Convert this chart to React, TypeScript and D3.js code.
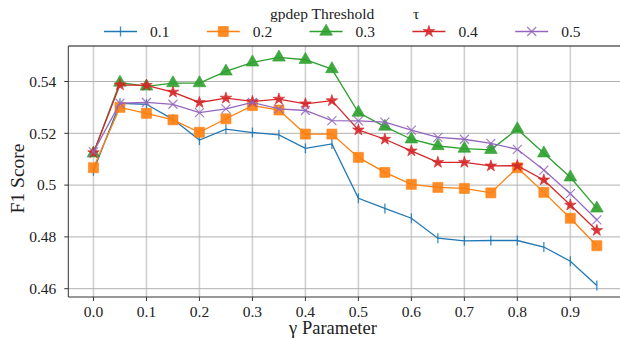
import React from 'react';
import * as d3 from 'd3';

const gammas = [0.0, 0.05, 0.1, 0.15, 0.2, 0.25, 0.3, 0.35, 0.4, 0.45, 0.5, 0.55, 0.6, 0.65, 0.7, 0.75, 0.8, 0.85, 0.9, 0.95];

const f1Tau01 = [0.5055, 0.5316, 0.5312, 0.5254, 0.5174, 0.5216, 0.5203, 0.5194, 0.5142, 0.5159, 0.4949, 0.4910, 0.4872, 0.4795, 0.4785, 0.4786, 0.4786, 0.4761, 0.4706, 0.4612];
const f1Tau02 = [0.5067, 0.5300, 0.5277, 0.5252, 0.5204, 0.5256, 0.5307, 0.5290, 0.5197, 0.5197, 0.5107, 0.5049, 0.5003, 0.4991, 0.4987, 0.4970, 0.5067, 0.4972, 0.4872, 0.4766];
const f1Tau03 = [0.5123, 0.5396, 0.5381, 0.5394, 0.5394, 0.5439, 0.5474, 0.5493, 0.5484, 0.5448, 0.5280, 0.5226, 0.5177, 0.5151, 0.5141, 0.5136, 0.5216, 0.5123, 0.5030, 0.4910];
const f1Tau04 = [0.5125, 0.5387, 0.5385, 0.5359, 0.5319, 0.5336, 0.5323, 0.5332, 0.5314, 0.5326, 0.5213, 0.5177, 0.5132, 0.5088, 0.5088, 0.5074, 0.5075, 0.5020, 0.4923, 0.4825];
const f1Tau05 = [0.5128, 0.5316, 0.5319, 0.5312, 0.5280, 0.5294, 0.5319, 0.5294, 0.5288, 0.5249, 0.5248, 0.5243, 0.5212, 0.5184, 0.5177, 0.5161, 0.5138, 0.5058, 0.4967, 0.4866];

const tauLabels = ['0.1', '0.2', '0.3', '0.4', '0.5'];
const colors = ['#1f77b4', '#ff7f0e', '#2ca02c', '#d62728', '#9467bd'];
const markers = ['vline', 'square', 'triangle', 'star', 'x'];
const xTicks = [0, 0.1, 0.2, 0.3, 0.4, 0.5, 0.6, 0.7, 0.8, 0.9];
const yTicks = [0.46, 0.48, 0.5, 0.52, 0.54];

const W = 620, H = 338;
const FONT = "'Liberation Serif', 'DejaVu Serif', serif";
const txt = (size: number): React.CSSProperties => ({ fontFamily: FONT, fontSize: size + 'px' });

const Marker = ({ kind, color, x, y }: { kind: string; color: string; x: number; y: number }) => {
  const t = `translate(${x},${y})`;
  if (kind === 'vline') return <line transform={t} x1={0} x2={0} y1={-5} y2={5} stroke={color} strokeWidth={1.3} strokeOpacity={0.85} />;
  if (kind === 'x') return <path transform={t} d="M-4.5,-4.5L4.5,4.5M-4.5,4.5L4.5,-4.5" stroke={color} strokeWidth={1.2} strokeOpacity={0.85} fill="none" />;
  const sym = kind === 'square' ? d3.symbolSquare : kind === 'triangle' ? d3.symbolTriangle : d3.symbolStar;
  const size = kind === 'square' ? 100 : kind === 'triangle' ? 70 : 42;
  return <path transform={t} d={d3.symbol(sym, size)()!} fill={color} fillOpacity={0.9} stroke={color} strokeOpacity={0.6} strokeWidth={1} />;
};

export default function App() {
  const series = [f1Tau01, f1Tau02, f1Tau03, f1Tau04, f1Tau05];
  const margin = { left: 68.3, right: -2, top: 46, bottom: 41 };

  // matplotlib-style 5% margins around the data
  const xMin = d3.min(gammas)!, xMax = d3.max(gammas)!;
  const xPad = (xMax - xMin) * 0.05;
  const x = d3.scaleLinear().domain([xMin - xPad, xMax + xPad]).range([margin.left, W - margin.right]);

  const all = series.flat();
  const yMin = d3.min(all)!, yMax = d3.max(all)!;
  const yPad = (yMax - yMin) * 0.05;
  const y = d3.scaleLinear().domain([yMin - yPad, yMax + yPad]).range([H - margin.bottom, margin.top]);

  const line = d3.line<number>().x((_, i) => x(gammas[i])).y(d => y(d));
  const [x0, x1] = x.range();
  const [y0, y1] = y.range();

  return (
    <svg width={W} height={H} style={{ position: 'absolute', left: 0, top: 0, background: '#fff' }}>
      {/* grid */}
      {xTicks.map(t => (
        <line key={'gx' + t} x1={x(t)} x2={x(t)} y1={y1} y2={y0} stroke="#d0d0d0" strokeWidth={1.6} />
      ))}
      {yTicks.map(t => (
        <line key={'gy' + t} x1={x0} x2={x1} y1={y(t)} y2={y(t)} stroke="#b0b0b0" strokeWidth={1} />
      ))}

      {/* series */}
      {series.map((s, k) => (
        <g key={'s' + k}>
          <path d={line(s)!} fill="none" stroke={colors[k]} strokeWidth={1.3} />
          {s.map((v, i) => <Marker key={i} kind={markers[k]} color={colors[k]} x={x(gammas[i])} y={y(v)} />)}
        </g>
      ))}

      {/* spines */}
      <line x1={x0} x2={x0} y1={y1} y2={y0} stroke="#333" strokeWidth={1} />
      <line x1={x0} x2={x1} y1={y0} y2={y0} stroke="#333" strokeWidth={1} />
      <line x1={x0} x2={x1} y1={y1} y2={y1} stroke="#111" strokeWidth={1} />

      {/* x axis */}
      {xTicks.map(t => (
        <g key={'xt' + t} transform={`translate(${x(t)},${y0})`}>
          <line y1={0} y2={4} stroke="#333" />
          <text y={20} textAnchor="middle" style={txt(15.5)} fill="#222">{d3.format('.1f')(t)}</text>
        </g>
      ))}
      <text x={333} y={334} textAnchor="middle" style={txt(18.5)} fill="#222">γ Parameter</text>

      {/* y axis */}
      {yTicks.map(t => (
        <g key={'yt' + t} transform={`translate(${x0},${y(t)})`}>
          <line x1={-4} x2={0} stroke="#333" />
          <text x={-12} dy="0.34em" textAnchor="end" style={txt(15.5)} fill="#222">{String(+t.toFixed(2))}</text>
        </g>
      ))}
      <text transform={`translate(24,${(y0 + y1) / 2 + 7}) rotate(-90)`} textAnchor="middle" style={txt(19.5)} fill="#222">F1 Score</text>

      {/* legend */}
      <text x={270} y={19} style={txt(15.5)} fill="#222">gpdep Threshold</text>
      <text x={413} y={19} style={txt(15.5)} fill="#222">τ</text>
      {tauLabels.map((lab, k) => {
        const lx = 104 + k * 102.8, ly = 31.5;
        return (
          <g key={'lg' + k}>
            <line x1={lx} x2={lx + 33} y1={ly} y2={ly} stroke={colors[k]} strokeWidth={1.3} />
            <Marker kind={markers[k]} color={colors[k]} x={lx + 16.5} y={ly} />
            <text x={lx + 46} y={ly + 5.5} style={txt(15.5)} fill="#222">{lab}</text>
          </g>
        );
      })}
    </svg>
  );
}
